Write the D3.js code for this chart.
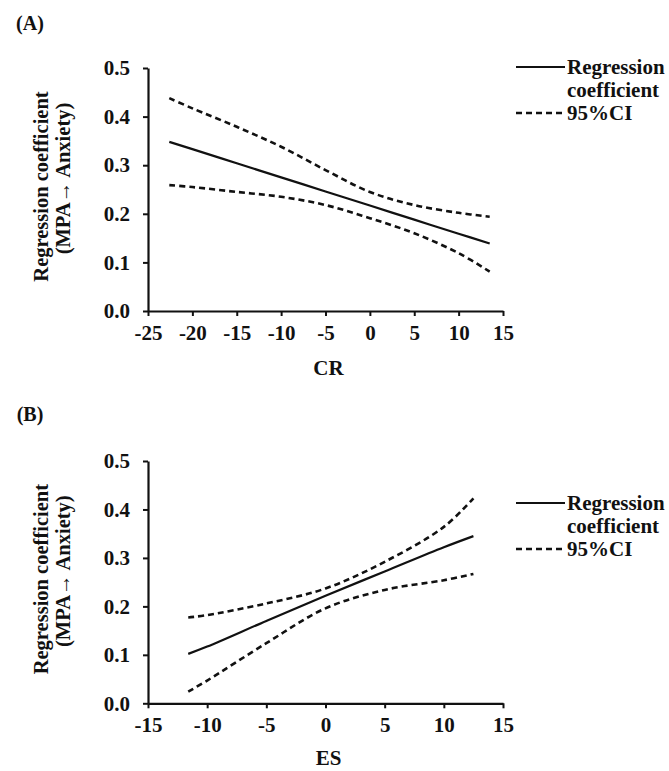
<!DOCTYPE html>
<html>
<head>
<meta charset="utf-8">
<script src="https://cdn.jsdelivr.net/npm/d3@7"></script>
<style>
  html, body { margin: 0; padding: 0; background: #fff; }
  svg { display: block; }
  text { font-family: "Liberation Serif", "Times New Roman", serif; font-weight: bold; fill: #111; }
</style>
</head>
<body>
<script>
// ---- data ----
const xTicksA = [-25, -20, -15, -10, -5, 0, 5, 10, 15];
const xTicksB = [-15, -10, -5, 0, 5, 10, 15];
const yTicks = [0.0, 0.1, 0.2, 0.3, 0.4, 0.5];

const crX     = [-22.6, -20, -15, -10, -5, 0, 5, 10, 13.5];
const crCoef  = [0.348, 0.333, 0.304, 0.275, 0.246, 0.217, 0.188, 0.159, 0.139];
const crUpper = [0.438, 0.417, 0.379, 0.338, 0.290, 0.245, 0.218, 0.202, 0.194];
const crLower = [0.259, 0.255, 0.245, 0.235, 0.218, 0.191, 0.160, 0.119, 0.081];

const esX     = [-11.6, -10, -5, 0, 5, 10, 12.5];
const esCoef  = [0.102, 0.117, 0.170, 0.222, 0.272, 0.322, 0.345];
const esUpper = [0.177, 0.182, 0.206, 0.237, 0.292, 0.364, 0.423];
const esLower = [0.024, 0.047, 0.124, 0.196, 0.234, 0.254, 0.267];

const panels = [
  { tag: "(A)", xLabel: "CR", xDomain: [-25, 15], xTicks: xTicksA,
    xs: crX, coef: crCoef, upper: crUpper, lower: crLower,
    top: 68, bottom: 311, titleY: 23, legendY: 67, xLabelGap: 57 },
  { tag: "(B)", xLabel: "ES", xDomain: [-15, 15], xTicks: xTicksB,
    xs: esX, coef: esCoef, upper: esUpper, lower: esLower,
    top: 461, bottom: 703.3, titleY: 414, legendY: 503, xLabelGap: 54 }
];
const legendItems = ["Regression coefficient", "95%CI"];

const W = 669, H = 771;
const left = 148, right = 503;
const FS = 21, LFS = 21;
const ink = "#111";

const svg = d3.select("body").append("svg").attr("width", W).attr("height", H);

panels.forEach(p => {
  const x = d3.scaleLinear().domain(p.xDomain).range([left, right]);
  const y = d3.scaleLinear().domain([0, 0.5]).range([p.bottom, p.top]);
  const g = svg.append("g");

  // title
  g.append("text").attr("x", 30).attr("y", p.titleY).attr("dy", "0.35em")
    .attr("text-anchor", "middle").style("font-size", "20px").text(p.tag);

  // axes
  const xAxis = d3.axisBottom(x).tickValues(p.xTicks).tickSize(5).tickSizeOuter(0)
    .tickPadding(9).tickFormat(d => String(d));
  const gx = g.append("g").attr("transform", `translate(0,${p.bottom})`).call(xAxis);
  const yAxis = d3.axisLeft(y).tickValues(yTicks).tickSize(5).tickSizeOuter(0)
    .tickPadding(13).tickFormat(d3.format(".1f"));
  const gy = g.append("g").attr("transform", `translate(${left},0)`).call(yAxis);
  [gx, gy].forEach(a => {
    a.select(".domain").attr("stroke", ink).attr("stroke-width", 2.2);
    a.selectAll(".tick line").attr("stroke", ink).attr("stroke-width", 2);
    a.selectAll(".tick text").style("font-size", FS + "px")
      .style("font-family", '"Liberation Serif", "Times New Roman", serif')
      .style("font-weight", "bold").attr("fill", ink);
  });

  // axis labels
  g.append("text").attr("x", (left + right) / 2 + 3).attr("y", p.bottom + p.xLabelGap).attr("dy", "0.35em")
    .attr("text-anchor", "middle").style("font-size", FS + "px").text(p.xLabel);
  const cy = (p.top + p.bottom) / 2 - 3;
  g.append("text").attr("transform", `translate(41,${cy}) rotate(-90)`).attr("dy", "0.35em")
    .attr("text-anchor", "middle").style("font-size", "20.5px").text("Regression coefficient");
  g.append("text").attr("transform", `translate(63,${cy - 8}) rotate(-90)`).attr("dy", "0.35em")
    .attr("text-anchor", "middle").style("font-size", "20.5px").text("(MPA\u2192 Anxiety)");

  // lines
  const line = d3.line().x(d => x(d[0])).y(d => y(d[1])).curve(d3.curveCatmullRom);
  const series = [
    { vals: p.coef, dash: null },
    { vals: p.upper, dash: "6,4" },
    { vals: p.lower, dash: "6,4" }
  ];
  series.forEach(s => {
    g.append("path").datum(p.xs.map((v, i) => [v, s.vals[i]]))
      .attr("d", line).attr("fill", "none").attr("stroke", ink)
      .attr("stroke-width", s.dash ? 2.6 : 2.2)
      .attr("stroke-dasharray", s.dash);
  });

  // legend
  const lg = g.append("g");
  const lx0 = 516, lx1 = 565, tx = 567;
  lg.append("line").attr("x1", lx0).attr("x2", lx1).attr("y1", p.legendY).attr("y2", p.legendY)
    .attr("stroke", ink).attr("stroke-width", 2.2);
  lg.append("text").attr("x", tx).attr("y", p.legendY).attr("dy", "0.35em")
    .style("font-size", LFS + "px").text(legendItems[0].split(" ")[0]);
  lg.append("text").attr("x", tx).attr("y", p.legendY + 23).attr("dy", "0.35em")
    .style("font-size", LFS + "px").text(legendItems[0].split(" ")[1]);
  lg.append("line").attr("x1", lx0).attr("x2", lx1).attr("y1", p.legendY + 46).attr("y2", p.legendY + 46)
    .attr("stroke", ink).attr("stroke-width", 2.4).attr("stroke-dasharray", "6,4");
  lg.append("text").attr("x", tx).attr("y", p.legendY + 46).attr("dy", "0.35em")
    .style("font-size", LFS + "px").text(legendItems[1]);
});
</script>
</body>
</html>
